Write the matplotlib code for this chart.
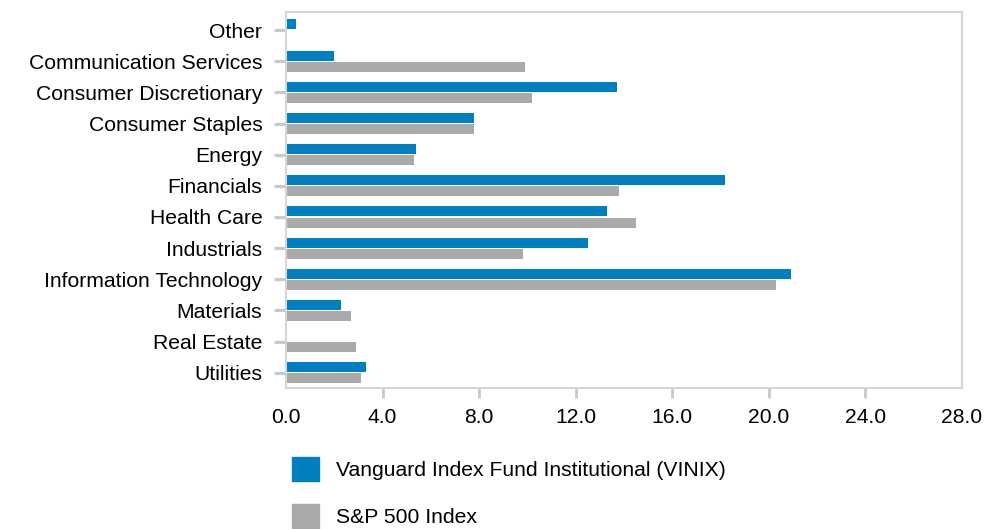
import matplotlib
matplotlib.use("Agg")
import matplotlib.pyplot as plt
from matplotlib.patches import Patch
import numpy as np

plt.rcParams['font.family'] = ['Liberation Sans', 'DejaVu Sans']

# Setores (de cima para baixo)
setores = ["Other", "Communication Services", "Consumer Discretionary",
           "Consumer Staples", "Energy", "Financials", "Health Care",
           "Industrials", "Information Technology", "Materials",
           "Real Estate", "Utilities"]
vinix = [0.4, 2.0, 13.7, 7.8, 5.4, 18.2, 13.3, 12.5, 20.9, 2.3, 0.0, 3.3]
sp500 = [0.0, 9.9, 10.2, 7.8, 5.3, 13.8, 14.5, 9.8, 20.3, 2.7, 2.9, 3.1]
nomes_series = ["Vanguard Index Fund Institutional (VINIX)", "S&P 500 Index"]
xticks = [0, 4, 8, 12, 16, 20, 24, 28]

azul = "#0080c0"
cinza = "#aaaaaa"
borda = "#d6d6d6"
tick_cor = "#c6cacd"

fig = plt.figure(figsize=(9.86, 5.29), dpi=100)
ax = fig.add_axes([0.290, 0.2665, 0.6857, 0.7108])

y = np.arange(len(setores))
altura = 0.32
ax.barh(y - 0.18, vinix, height=altura, color=azul, label=nomes_series[0])
ax.barh(y + 0.18, sp500, height=altura, color=cinza, label=nomes_series[1])

ax.set_ylim(len(setores) - 1 + 0.49, -0.58)
ax.set_xlim(0, 28)
ax.set_yticks(y)
ax.set_yticklabels(setores, fontsize=15.2)
ax.set_xticks(xticks)
ax.set_xticklabels([f"{v:.1f}" for v in xticks], fontsize=15.2)

for lado in ax.spines.values():
    lado.set_color(borda)
    lado.set_linewidth(1.5)

ax.tick_params(axis="y", length=9, width=2.3, color=tick_cor, pad=8)
ax.tick_params(axis="x", length=7.5, width=2, color=tick_cor, pad=7)
# sem marca nas pontas do eixo x
xt = ax.xaxis.get_major_ticks()
xt[0].tick1line.set_visible(False)
xt[-1].tick1line.set_visible(False)

handles = [Patch(color=azul), Patch(color=cinza)]
fig.legend(handles, nomes_series, loc="upper left",
           bbox_to_anchor=(0.288, 0.152), frameon=False, fontsize=15.2,
           handlelength=1.25, handleheight=1.4, handletextpad=0.8,
           labelspacing=1.08, borderaxespad=0)

fig.savefig("out.png", dpi=100)
